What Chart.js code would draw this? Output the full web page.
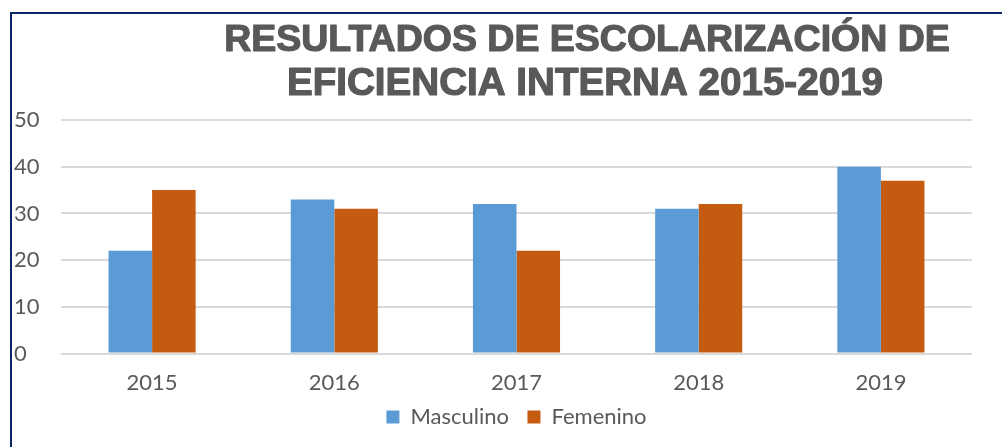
<!DOCTYPE html>
<html>
<head>
<meta charset="utf-8">
<script src="https://cdn.jsdelivr.net/npm/chart.js@4/dist/chart.umd.min.js"></script>
<style>
  html, body { margin: 0; padding: 0; background: #fff; }
  #wrap { position: relative; width: 1002px; height: 447px; overflow: hidden; }
  #frame { position: absolute; left: 10px; top: 12px; width: 1100px; height: 600px;
           border-left: 2px solid #0b2769; border-top: 2px solid #0b2769; }
  canvas { position: absolute; left: 0; top: 0; }
</style>
</head>
<body>
<div id="wrap">
  <div id="frame"></div>
  <canvas id="chart" width="1002" height="447"></canvas>
</div>
<script>
var years = ['2015', '2016', '2017', '2018', '2019'];
var masculino = [22, 33, 32, 31, 40];
var femenino = [35, 31, 22, 32, 37];
var titleLines = ['RESULTADOS DE ESCOLARIZACIÓN DE', 'EFICIENCIA INTERNA 2015-2019'];

var textGrey = '#595959';
var tickFont = { family: 'Lato, "Open Sans", sans-serif', size: 22 };

// title is offset to the right in the original, so it is drawn by hand
var titlePlugin = {
  id: 'sideTitle',
  afterDraw: function(chart) {
    var ctx = chart.ctx;
    ctx.save();
    ctx.fillStyle = textGrey;
    ctx.strokeStyle = textGrey;
    ctx.lineWidth = 1.2;
    ctx.lineJoin = 'round';
    ctx.textAlign = 'center';
    ctx.textBaseline = 'alphabetic';
    ctx.font = 'bold 37.5px "Liberation Sans", Arial, sans-serif';
    ctx.fillText(titleLines[0], 587, 51);
    ctx.strokeText(titleLines[0], 587, 51);
    ctx.font = 'bold 38.6px "Liberation Sans", Arial, sans-serif';
    ctx.fillText(titleLines[1], 585, 95);
    ctx.strokeText(titleLines[1], 585, 95);
    ctx.restore();
  }
};

var chartCanvas = document.getElementById('chart').getContext('2d');

new Chart(chartCanvas, {
  type: 'bar',
  data: {
    labels: years,
    datasets: [{
      label: 'Masculino',
      data: masculino,
      backgroundColor: '#5b9bd5',
    }, {
      label: 'Femenino',
      data: femenino,
      backgroundColor: '#c55a11',
    }],
  },
  options: {
    responsive: false,
    animation: false,
    layout: { padding: { left: 14, right: 30, top: 120, bottom: 9 } },
    datasets: { bar: { categoryPercentage: 0.478, barPercentage: 1.0 } },
    scales: {
      x: {
        grid: { display: false },
        border: { display: false },
        ticks: { color: textGrey, font: tickFont, padding: 8 },
      },
      y: {
        min: 0,
        max: 50,
        ticks: { stepSize: 10, color: textGrey, font: tickFont, crossAlign: 'far', padding: 0 },
        grid: { color: '#d9d9d9', lineWidth: 2, drawTicks: false },
        border: { display: false },
        afterFit: function(scale) { scale.width = 47; },
      },
    },
    plugins: {
      title: { display: false },
      tooltip: { enabled: false },
      legend: {
        position: 'bottom',
        fullSize: false,
        labels: {
          color: textGrey, font: tickFont, boxWidth: 13, boxHeight: 13, padding: 2,
          // small vertical padding, so the gap between the two items comes from a trailing em space
          generateLabels: function(chart) {
            var items = Chart.defaults.plugins.legend.labels.generateLabels(chart);
            items[0].text = items[0].text + '\u2003';
            return items;
          },
        },
      },
    },
  },
  plugins: [titlePlugin],
});
</script>
</body>
</html>
